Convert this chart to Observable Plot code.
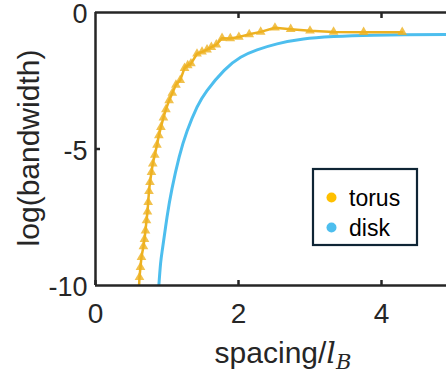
<!DOCTYPE html>
<html><head><meta charset="utf-8">
<script src="https://cdn.jsdelivr.net/npm/d3@7"></script>
<script src="https://cdn.jsdelivr.net/npm/@observablehq/plot@0.6"></script>
<style>
body{margin:0;background:#fff;}
#chart{width:446px;height:379px;overflow:hidden;}
</style>
</head><body><div id="chart"></div>
<script>
// ---- data ----
const torusX = [0.605, 0.615, 0.629, 0.643, 0.670, 0.685, 0.699, 0.713, 0.727, 0.737, 0.748, 0.762, 0.783, 0.801, 0.829, 0.860, 0.886, 0.915, 0.950, 0.985, 1.030, 1.075, 1.125, 1.185, 1.245, 1.290, 1.335, 1.420, 1.490, 1.560, 1.620, 1.690, 1.770, 1.885, 2.005, 2.150, 2.310, 2.510, 2.730, 3.000, 3.330, 3.750, 4.290];
const torusY = [-10.25, -9.70, -9.33, -8.96, -8.57, -8.30, -7.99, -7.62, -7.30, -6.95, -6.55, -6.22, -5.85, -5.54, -5.22, -4.85, -4.50, -4.20, -3.85, -3.55, -3.22, -2.95, -2.65, -2.48, -2.04, -1.94, -1.87, -1.51, -1.44, -1.36, -1.27, -1.18, -0.94, -0.95, -0.90, -0.80, -0.71, -0.56, -0.61, -0.67, -0.71, -0.72, -0.72];
const diskX = [0.875, 0.886, 0.910, 0.940, 1.000, 1.070, 1.170, 1.280, 1.420, 1.560, 1.800, 2.030, 2.260, 2.540, 2.910, 3.330, 3.890, 4.910, 5.000];
const diskY = [-10.40, -10.00, -9.20, -8.60, -7.50, -6.45, -5.30, -4.35, -3.47, -2.86, -2.12, -1.64, -1.37, -1.15, -0.97, -0.88, -0.83, -0.81, -0.81];
const xTicks = [0, 2, 4];
const xTopTicks = [2, 4];
const yTicks = [0, -5, -10];
const yMidTicks = [-5];
const seriesNames = ["torus", "disk"];
const lineColors = ["#EDB120", "#4DBEEE"];
const legendColors = ["#FFC000", "#4DBEEE"];

const torus = torusX.map((x, i) => ({x, y: torusY[i]}));
const disk = diskX.map((x, i) => ({x, y: diskY[i]}));

const axisColor = "#262626";
const font = "'Liberation Sans', Arial, Helvetica, sans-serif";

const plot = Plot.plot({
  width: 446,
  height: 379,
  marginLeft: 95, marginTop: 12, marginBottom: 94, marginRight: 0,
  style: {fontFamily: font, color: axisColor, background: "#fff", overflow: "visible"},
  x: {domain: [0, 5], range: [95, 452.5]},
  y: {domain: [-10, 0], range: [285, 12]},
  marks: [
    Plot.line(disk, {x: "x", y: "y", stroke: lineColors[1], strokeWidth: 3, curve: "natural", clip: true}),
    Plot.line(torus, {x: "x", y: "y", stroke: lineColors[0], strokeWidth: 2.5, clip: true}),
    Plot.dot(torus, {x: "x", y: "y", symbol: "triangle", r: 3.6, fill: lineColors[0], fillOpacity: 0.8, stroke: "none", clip: true}),
    Plot.ruleY([-10, 0], {stroke: axisColor, strokeWidth: 2.5}),
    Plot.ruleX([0], {stroke: axisColor, strokeWidth: 2.5}),
    Plot.axisX(xTicks, {anchor: "bottom", tickSize: -5, tickPadding: 23, strokeWidth: 2.5, fontSize: 28, label: null, tickFormat: d => `${d}`}),
    Plot.axisX(xTopTicks, {anchor: "top", tickSize: -5, strokeWidth: 2.5, label: null, tickFormat: () => ""}),
    Plot.axisY(yMidTicks, {anchor: "left", tickSize: -5, strokeWidth: 2.5, label: null, tickFormat: () => ""}),
    Plot.axisY(yTicks, {anchor: "left", tickSize: 0, tickPadding: 8, dy: 2, fontSize: 27, label: null, tickFormat: d => `${d}`})
  ]
});
document.getElementById("chart").appendChild(plot);

const svg = d3.select(plot);
// y axis label
svg.append("text")
  .attr("transform", "translate(39,148) rotate(-90)")
  .attr("text-anchor", "middle")
  .attr("font-family", font).attr("font-size", 30).attr("fill", axisColor)
  .text("log(bandwidth)");
// x axis label
const xl = svg.append("text")
  .attr("x", 283).attr("y", 363)
  .attr("text-anchor", "middle")
  .attr("font-family", font).attr("font-size", 30).attr("fill", axisColor);
xl.append("tspan").text("spacing/");
xl.append("tspan").attr("font-family", "'DejaVu Serif', 'Liberation Serif', serif").attr("font-style", "italic").text("l");
xl.append("tspan").attr("font-family", "'DejaVu Serif', 'Liberation Serif', serif").attr("font-style", "italic").attr("font-size", 21).attr("dy", 6).text("B");

// legend
const lg = svg.append("g");
lg.append("rect").attr("x", 313).attr("y", 169).attr("width", 104).attr("height", 76)
  .attr("fill", "#fff").attr("stroke", "#0f2535").attr("stroke-width", 2.2);
seriesNames.forEach((name, i) => {
  const cy = 197.5 + i * 30;
  lg.append("circle").attr("cx", 331.5).attr("cy", cy).attr("r", 5).attr("fill", legendColors[i]);
  lg.append("text").attr("x", 349).attr("y", cy).attr("dy", "0.35em")
    .attr("text-anchor", "start")
    .attr("font-family", font).attr("font-size", 23).attr("fill", "#000").text(name);
});
</script>
</body></html>
